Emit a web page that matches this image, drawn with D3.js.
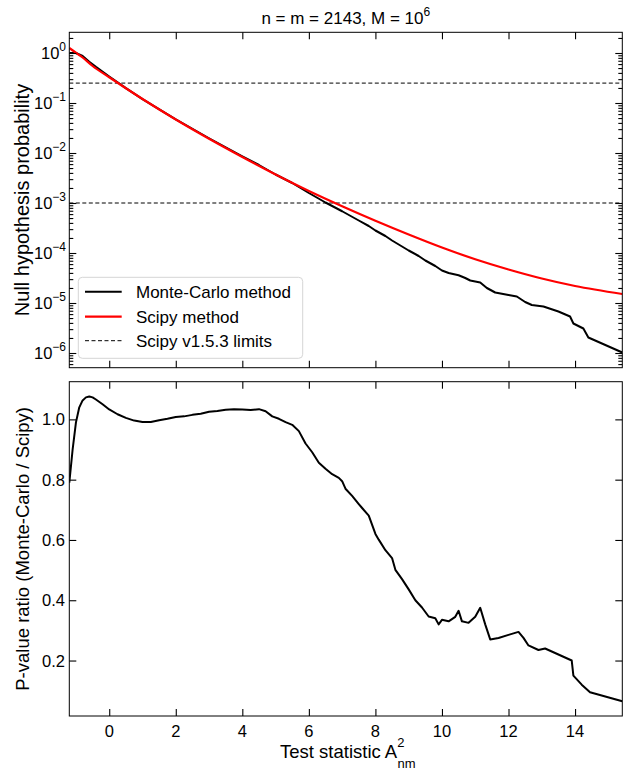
<!DOCTYPE html>
<html><head><meta charset="utf-8">
<script src="https://cdn.jsdelivr.net/npm/d3@7"></script>
<style>
body{margin:0;background:#fff}
text{font-family:"Liberation Sans",Arial,sans-serif;fill:#000}
</style>
</head><body><svg id="c" width="623" height="778"></svg>
<script>
// ---- data ----
// Scipy method: log10(p) vs test statistic
const scipyX   = [-1.2, -1.0, -0.8, -0.5, 0, 0.5, 1, 2, 3, 4, 5, 6, 7, 8, 9, 10, 11, 12, 13, 14, 15.42];
const scipyLog = [0.10, 0.005, -0.09, -0.26, -0.485, -0.705, -0.92, -1.33, -1.715, -2.08, -2.43, -2.76, -3.065, -3.355, -3.63, -3.89, -4.125, -4.33, -4.51, -4.66, -4.82];
// Monte-Carlo method: log10(p)
const mcX   = [-1.2, -1.0, -0.8, -0.6, -0.4, 0, 0.5, 1, 2, 3, 4, 4.5, 5, 5.5, 6, 6.5, 7, 7.5, 7.8, 8.0, 8.3, 8.5, 8.7, 9, 9.3, 9.5, 9.8, 10, 10.2, 10.5, 10.7, 10.85, 11.15, 11.35, 11.6, 12.0, 12.25, 12.5, 12.7, 13.05, 13.5, 13.85, 13.95, 14.25, 14.4, 15.42];
const mcLog = [0.00, 0.00, -0.06, -0.175, -0.277, -0.47, -0.703, -0.924, -1.327, -1.705, -2.066, -2.24, -2.43, -2.60, -2.80, -2.99, -3.165, -3.35, -3.46, -3.55, -3.66, -3.75, -3.83, -3.95, -4.06, -4.15, -4.26, -4.35, -4.40, -4.445, -4.50, -4.55, -4.59, -4.70, -4.79, -4.84, -4.87, -4.98, -5.04, -5.07, -5.17, -5.27, -5.41, -5.51, -5.69, -5.99];
// P-value ratio (Monte-Carlo / Scipy)
const ratioX = [-1.2, -1.1, -1.0, -0.9, -0.8, -0.7, -0.6, -0.5, -0.4, -0.2, 0.0, 0.25, 0.5, 0.75, 1.0, 1.25, 1.5, 1.75, 2.0, 2.25, 2.5, 2.75, 3.0, 3.25, 3.5, 3.75, 4.0, 4.25, 4.5, 4.7, 4.9, 5.1, 5.3, 5.5, 5.7, 5.9, 6.1, 6.3, 6.5, 6.7, 6.9, 7.0, 7.1, 7.3, 7.5, 7.6, 7.8, 8.0, 8.1, 8.3, 8.5, 8.6, 8.8, 9.0, 9.2, 9.4, 9.6, 9.8, 9.9, 10.0, 10.2, 10.4, 10.5, 10.6, 10.8, 11.0, 11.15, 11.3, 11.45, 11.7, 12.0, 12.3, 12.45, 12.6, 12.9, 13.1, 13.4, 13.8, 13.9, 13.95, 14.2, 14.45, 15.42];
const ratioV = [0.79, 0.90, 0.99, 1.04, 1.063, 1.073, 1.076, 1.073, 1.066, 1.050, 1.033, 1.017, 1.005, 0.996, 0.991, 0.991, 0.997, 1.002, 1.008, 1.010, 1.015, 1.019, 1.025, 1.028, 1.032, 1.034, 1.033, 1.031, 1.034, 1.027, 1.010, 1.002, 0.991, 0.982, 0.961, 0.920, 0.891, 0.856, 0.836, 0.818, 0.806, 0.795, 0.770, 0.746, 0.719, 0.706, 0.681, 0.620, 0.601, 0.566, 0.540, 0.501, 0.470, 0.436, 0.400, 0.376, 0.346, 0.340, 0.320, 0.335, 0.330, 0.345, 0.365, 0.330, 0.325, 0.345, 0.375, 0.320, 0.270, 0.275, 0.285, 0.295, 0.275, 0.250, 0.235, 0.240, 0.225, 0.205, 0.200, 0.150, 0.120, 0.095, 0.065];
const limitValues = [0.25, 0.001];
const xTicks = [0, 2, 4, 6, 8, 10, 12, 14];
const logTickExps = [0, -1, -2, -3, -4, -5, -6];
const ratioTicks = [0.2, 0.4, 0.6, 0.8, 1.0];
const legendLabels = ["Monte-Carlo method", "Scipy method", "Scipy v1.5.3 limits"];

// ---- layout ----
const L = 69.3, R = 622.3;
const T1 = 32.3, B1 = 367.7, T2 = 381.7, B2 = 716;
const svg = d3.select("#c");
svg.append("rect").attr("width", 623).attr("height", 778).attr("fill", "#fff");

const x = d3.scaleLinear().domain([-1.2, 15.42]).range([L, R]);
const yTop = d3.scaleLog().domain([Math.pow(10, -6.294), Math.pow(10, 0.414)]).range([B1, T1]);
const yBot = d3.scaleLinear().domain([0.016, 1.125]).range([B2, T2]);

const MAJ = 7, MIN = 4;
function styleAxis(g) {
  g.select(".domain").remove();
  g.selectAll(".tick line").attr("stroke", "#000").attr("stroke-width", 1.1);
}
const defs = svg.append("defs");
defs.append("clipPath").attr("id", "clipTop").append("rect").attr("x", L).attr("y", T1).attr("width", R - L).attr("height", B1 - T1);
defs.append("clipPath").attr("id", "clipBot").append("rect").attr("x", L).attr("y", T2).attr("width", R - L).attr("height", B2 - T2);

// ---------- top panel ----------
const topG = svg.append("g");
const lineTop = d3.line().x(d => x(d[0])).y(d => yTop(Math.pow(10, d[1])));
topG.append("g").attr("clip-path", "url(#clipTop)").selectAll("line").data(limitValues).join("line")
  .attr("x1", L).attr("x2", R).attr("y1", d => yTop(d)).attr("y2", d => yTop(d))
  .attr("stroke", "#000").attr("stroke-width", 1).attr("stroke-dasharray", "4,2.5");
const mcData = mcX.map((v, i) => [v, mcLog[i]]);
const spData = scipyX.map((v, i) => [v, scipyLog[i]]);
topG.append("path").datum(mcData).attr("clip-path", "url(#clipTop)").attr("d", lineTop)
  .attr("fill", "none").attr("stroke", "#000").attr("stroke-width", 2).attr("stroke-linejoin", "round");
topG.append("path").datum(spData).attr("clip-path", "url(#clipTop)").attr("d", lineTop.curve(d3.curveMonotoneX))
  .attr("fill", "none").attr("stroke", "#ff0000").attr("stroke-width", 2.2).attr("stroke-linejoin", "round");

const majorVals = logTickExps.map(e => Math.pow(10, e));
const minorVals = [];
for (let e = -7; e <= 0; e++) for (let m = 2; m <= 9; m++) {
  const v = m * Math.pow(10, e);
  if (v >= yTop.domain()[0] && v <= yTop.domain()[1]) minorVals.push(v);
}
[[d3.axisLeft, L], [d3.axisRight, R]].forEach(([ax, pos]) => {
  topG.append("g").attr("transform", `translate(${pos},0)`)
    .call(ax(yTop).tickValues(majorVals).tickSizeInner(-MAJ).tickSizeOuter(0).tickFormat(""))
    .call(styleAxis);
  topG.append("g").attr("transform", `translate(${pos},0)`)
    .call(ax(yTop).tickValues(minorVals).tickSizeInner(-MIN).tickSizeOuter(0).tickFormat(""))
    .call(styleAxis);
});
topG.append("g").attr("transform", `translate(0,${T1})`)
  .call(d3.axisTop(x).tickValues(xTicks).tickSizeInner(-MAJ).tickSizeOuter(0).tickFormat("")).call(styleAxis);
topG.append("g").attr("transform", `translate(0,${B1})`)
  .call(d3.axisBottom(x).tickValues(xTicks).tickSizeInner(-MAJ).tickSizeOuter(0).tickFormat("")).call(styleAxis);
const lab = topG.append("g").selectAll("text").data(logTickExps).join("text")
  .attr("x", 66).attr("y", d => yTop(Math.pow(10, d)) + 6).attr("text-anchor", "end").attr("font-size", 16.5);
lab.append("tspan").text("10");
lab.append("tspan").attr("dy", -8.5).attr("font-size", 12).text(d => d === 0 ? "0" : "\u2212" + Math.abs(d));
topG.append("rect").attr("x", L).attr("y", T1).attr("width", R - L).attr("height", B1 - T1)
  .attr("fill", "none").attr("stroke", "#000").attr("stroke-width", 1);

// legend
const lg = topG.append("g");
lg.append("rect").attr("x", 78.3).attr("y", 277.3).attr("width", 224.4).attr("height", 81).attr("rx", 4)
  .attr("fill", "#fff").attr("fill-opacity", 0.85).attr("stroke", "#d5d5d5").attr("stroke-width", 1);
const legStyles = [{c: "#000", w: 2, d: null}, {c: "#ff0000", w: 2.2, d: null}, {c: "#000", w: 1, d: "4,2.5"}];
const legY = [291.7, 316.7, 340.7];
legendLabels.forEach((t, i) => {
  lg.append("line").attr("x1", 85).attr("x2", 121.7).attr("y1", legY[i]).attr("y2", legY[i])
    .attr("stroke", legStyles[i].c).attr("stroke-width", legStyles[i].w).attr("stroke-dasharray", legStyles[i].d);
  lg.append("text").attr("x", 136).attr("y", legY[i] + 6).attr("font-size", 17).text(t);
});

// ---------- bottom panel ----------
const botG = svg.append("g");
const lineBot = d3.line().x(d => x(d[0])).y(d => yBot(d[1]));
const ratioData = ratioX.map((v, i) => [v, ratioV[i]]);
botG.append("path").datum(ratioData).attr("clip-path", "url(#clipBot)").attr("d", lineBot)
  .attr("fill", "none").attr("stroke", "#000").attr("stroke-width", 2).attr("stroke-linejoin", "round");
[[d3.axisLeft, L], [d3.axisRight, R]].forEach(([ax, pos]) => {
  botG.append("g").attr("transform", `translate(${pos},0)`)
    .call(ax(yBot).tickValues(ratioTicks).tickSizeInner(-MAJ).tickSizeOuter(0).tickFormat("")).call(styleAxis);
});
botG.append("g").attr("transform", `translate(0,${T2})`)
  .call(d3.axisTop(x).tickValues(xTicks).tickSizeInner(-MAJ).tickSizeOuter(0).tickFormat("")).call(styleAxis);
botG.append("g").attr("transform", `translate(0,${B2})`)
  .call(d3.axisBottom(x).tickValues(xTicks).tickSizeInner(-MAJ).tickSizeOuter(0).tickFormat("")).call(styleAxis);
botG.append("g").selectAll("text").data(ratioTicks).join("text")
  .attr("x", 65).attr("y", d => yBot(d) + 6).attr("text-anchor", "end").attr("font-size", 16.5)
  .text(d => d3.format(".1f")(d));
botG.append("g").selectAll("text").data(xTicks).join("text")
  .attr("x", d => x(d)).attr("y", B2 + 21).attr("text-anchor", "middle").attr("font-size", 16.5)
  .text(d => d);
botG.append("rect").attr("x", L).attr("y", T2).attr("width", R - L).attr("height", B2 - T2)
  .attr("fill", "none").attr("stroke", "#000").attr("stroke-width", 1);

// ---------- titles / axis labels ----------
const title = svg.append("text").attr("x", (L + R) / 2).attr("y", 24).attr("text-anchor", "middle").attr("font-size", 17);
title.append("tspan").text("n = m = 2143, M = 10");
title.append("tspan").attr("dy", -8.5).attr("font-size", 12).text("6");

svg.append("text").attr("transform", `translate(29,${(T1 + B1) / 2}) rotate(-90)`)
  .attr("text-anchor", "middle").attr("font-size", 20).text("Null hypothesis probability");
svg.append("text").attr("transform", `translate(29,${(T2 + B2) / 2}) rotate(-90)`)
  .attr("text-anchor", "middle").attr("font-size", 18.5).text("P-value ratio (Monte-Carlo / Scipy)");

const xl = svg.append("text").attr("x", 280).attr("y", 758).attr("text-anchor", "start").attr("font-size", 18.5);
xl.append("tspan").text("Test statistic A");
xl.append("tspan").attr("dy", -11).attr("font-size", 13).text("2");
xl.append("tspan").attr("dx", -7).attr("dy", 21).attr("font-size", 13).text("nm");
</script>
</body></html>
